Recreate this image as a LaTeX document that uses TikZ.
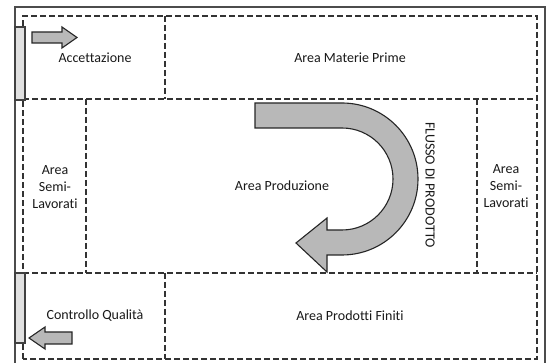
\documentclass[tikz,border=0pt]{standalone}
\usepackage{fontspec}
\setmainfont[Ligatures=NoCommon]{Carlito}
\begin{document}
\begin{tikzpicture}[x=1pt,y=1pt,
  zone/.style={draw=black!80, line width=1.5pt, dash pattern=on 6pt off 3pt},
  wall/.style={draw=black!70, line width=1.4pt},
  bar/.style={draw=black!75, fill=black!12, line width=1.1pt},
  blockarrow/.style={draw=black!85, fill=black!28, line width=1.1pt, line join=miter},
  lbl/.style={font=\fontsize{14}{17}\selectfont, text=black!90, align=center, inner sep=0pt}]
\useasboundingbox (0,0) rectangle (546,363);
\clip (0,0) rectangle (546,363);
\fill[white] (0,0) rectangle (546,363);
% outer wall
\draw[wall] (15,-5) -- (15,356) -- (545,356) -- (545,-5);
% inner dashed zones
\draw[zone] (23,4) rectangle (537,347);
\draw[zone] (23,264) -- (537,264);
\draw[zone] (23,90) -- (537,90);
\draw[zone] (165,347) -- (165,264);
\draw[zone] (165,90) -- (165,4);
\draw[zone] (86,264) -- (86,90);
\draw[zone] (477,264) -- (477,90);
% doors (bars)
\draw[bar] (15,336) rectangle (25,263);
\draw[bar] (15,90) rectangle (25,20);
% small arrows
\draw[blockarrow] (32,320) -- (62,320) -- (62,315) -- (77,325.5) -- (62,336) -- (62,331) -- (32,331) -- cycle;
\draw[blockarrow] (72,19) -- (45,19) -- (45,14) -- (29,25) -- (45,36) -- (45,31) -- (72,31) -- cycle;
% big U arrow
\draw[blockarrow] (255,260) -- (342,260) arc (90:-90:76) -- (327,108) -- (327,91) -- (296,120) -- (327,145) -- (327,133) -- (342,133) arc (-90:90:51) -- (255,235) -- cycle;
% labels
\node[lbl] (acc) at (95,305) {Accettazione};
\node[lbl] (amp) at (350,305) {Area Materie Prime};
\node[lbl] (asl) at (55,176) {Area\\Semi-\\Lavorati};
\node[lbl] (apr) at (282,177) {Area Produzione};
\node[lbl, rotate=-90] (flu) at (430,178) {FLUSSO DI PRODOTTO};
\node[lbl] (asr) at (506,177) {Area\\Semi-\\Lavorati};
\node[lbl] (cq) at (95,47) {Controllo Qualità};
\node[lbl] (apf) at (350,47) {Area Prodotti Finiti};
\end{tikzpicture}
\end{document}
